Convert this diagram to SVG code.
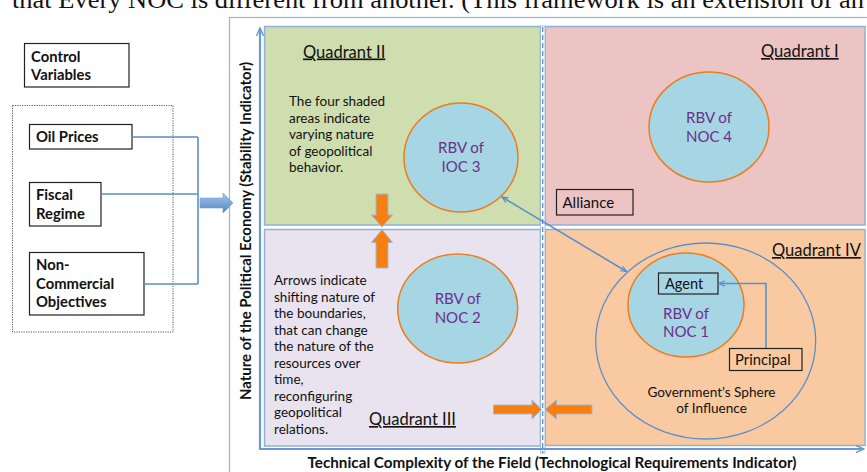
<svg xmlns="http://www.w3.org/2000/svg" width="867" height="472" viewBox="0 0 867 472">
  <style>
    .t { font-family: Lato, "Open Sans", "Liberation Sans", sans-serif; fill: #111; }
    .b { font-weight: bold; }
    .box { fill: #fff; stroke: #222; stroke-width: 1.2; }
    .lbl { fill: none; stroke: #222; stroke-width: 1.2; }
    .quad { stroke: #90b0d8; stroke-width: 1.5; }
    .rbv { fill: #a6d5e3; stroke: #ec7c1c; stroke-width: 1.5; }
    .rbvt { font-family: Lato, "Open Sans", "Liberation Sans", sans-serif; fill: #6f2e8c; font-size: 15px; text-anchor: middle; }
    .qt { font-size: 16.5px; text-decoration: underline; }
    .desc { font-size: 13.5px; }
    .cv { font-size: 14.8px; font-weight: bold; }
    .wire { fill: none; stroke: #5b8fca; stroke-width: 1.6; }
    .axis { fill: none; stroke: #6b98cf; stroke-width: 2.2; }
    .shift { fill: #f77f10; stroke: #9fb8d8; stroke-width: 1; }
  </style>
  <defs>
    <linearGradient id="flow" x1="0" y1="0" x2="0" y2="1">
      <stop offset="0" stop-color="#a9c6ea"/>
      <stop offset="1" stop-color="#4f84c4"/>
    </linearGradient>
    <marker id="tipBlue" viewBox="0 0 10 10" refX="9" refY="5" markerWidth="7" markerHeight="7" orient="auto-start-reverse" markerUnits="userSpaceOnUse">
      <path d="M0,1 L9,5 L0,9" fill="none" stroke="#5b8fca" stroke-width="1.6"/>
    </marker>
    <marker id="tipAxis" viewBox="0 0 10 10" refX="9" refY="5" markerWidth="9" markerHeight="9" orient="auto" markerUnits="userSpaceOnUse">
      <path d="M0,1 L9,5 L0,9" fill="none" stroke="#6b98cf" stroke-width="1.6"/>
    </marker>
  </defs>

  <!-- running text of the page above the figure -->
  <text x="12" y="8" font-family="'Liberation Serif', serif" font-size="26" fill="#111" textLength="852" lengthAdjust="spacingAndGlyphs">that Every NOC is different from another. (This framework is an extension of an</text>

  <!-- figure frame -->
  <rect x="229.5" y="17.5" width="700" height="500" fill="#fff" stroke="#98b4d8" stroke-width="1.2"/>

  <!-- quadrants -->
  <g id="quadrant-2">
    <rect class="quad" x="264.5" y="26.5" width="276" height="198.5" fill="#cfdeae"/>
    <text class="t qt" x="303" y="57.5">Quadrant II</text>
    <text class="t desc" x="289" y="106">The four shaded</text>
    <text class="t desc" x="289" y="122.5">areas indicate</text>
    <text class="t desc" x="289" y="139">varying nature</text>
    <text class="t desc" x="289" y="155.5">of geopolitical</text>
    <text class="t desc" x="289" y="172">behavior.</text>
  </g>
  <g id="quadrant-1">
    <rect class="quad" x="545" y="26.5" width="320" height="198.5" fill="#ebc4c3"/>
    <text class="t qt" x="761" y="57">Quadrant I</text>
  </g>
  <g id="quadrant-3">
    <rect class="quad" x="264.5" y="229.5" width="276" height="216.5" fill="#e9e3ef"/>
    <text class="t qt" x="369" y="425">Quadrant III</text>
    <text class="t desc" x="274" y="285">Arrows indicate</text>
    <text class="t desc" x="274" y="301.5">shifting nature of</text>
    <text class="t desc" x="274" y="318">the boundaries,</text>
    <text class="t desc" x="274" y="334.5">that can change</text>
    <text class="t desc" x="274" y="351">the nature of the</text>
    <text class="t desc" x="274" y="367.5">resources over</text>
    <text class="t desc" x="274" y="384">time,</text>
    <text class="t desc" x="274" y="400.5">reconfiguring</text>
    <text class="t desc" x="274" y="417">geopolitical</text>
    <text class="t desc" x="274" y="433.5">relations.</text>
  </g>
  <g id="quadrant-4">
    <rect class="quad" x="545" y="229.5" width="320" height="216" fill="#f9caa2"/>
    <text class="t qt" x="772" y="256">Quadrant IV</text>
  </g>

  <!-- dashed boundary between the columns -->
  <g id="divider">
    <rect x="540.5" y="26" width="4.5" height="427" fill="#fff" stroke="#90b0d8" stroke-width="0.8"/>
    <line x1="542.7" y1="27" x2="542.7" y2="453" stroke="#5b8fca" stroke-width="1.3" stroke-dasharray="5 3"/>
  </g>

  <!-- axes -->
  <g id="axes">
    <path class="axis" d="M260,449 V28" marker-end="url(#tipAxis)"/>
    <path class="axis" d="M259,449 H864" marker-end="url(#tipAxis)"/>
    <text class="t b" font-size="14.5" transform="translate(251,231) rotate(-90)" text-anchor="middle" textLength="338" lengthAdjust="spacingAndGlyphs">Nature of the Political Economy (Stability Indicator)</text>
    <text class="t b" font-size="14.5" x="552" y="468" text-anchor="middle" textLength="489" lengthAdjust="spacingAndGlyphs">Technical Complexity of the Field (Technological Requirements Indicator)</text>
  </g>

  <!-- control variables -->
  <g id="control-variables">
    <rect class="box" x="24.5" y="43.5" width="104.5" height="43.5"/>
    <text class="t cv" x="31" y="62">Control</text>
    <text class="t cv" x="31" y="79.5">Variables</text>
  </g>
  <g id="variable-group">
    <rect x="12.5" y="105.5" width="160.5" height="226.5" fill="none" stroke="#444" stroke-width="0.9" stroke-dasharray="1.2 1.2"/>
  </g>
  <g id="oil-prices">
    <rect class="box" x="29.5" y="124.5" width="102.5" height="24.5"/>
    <text class="t cv" x="36" y="142">Oil Prices</text>
  </g>
  <g id="fiscal-regime">
    <rect class="box" x="29.5" y="182.5" width="71.5" height="43.5"/>
    <text class="t cv" x="36" y="199.5">Fiscal</text>
    <text class="t cv" x="36" y="218.5">Regime</text>
  </g>
  <g id="non-commercial">
    <rect class="box" x="29.5" y="252.5" width="114.5" height="62.5"/>
    <text class="t cv" x="36" y="270">Non-</text>
    <text class="t cv" x="36" y="288.5">Commercial</text>
    <text class="t cv" x="36" y="307">Objectives</text>
  </g>

  <!-- resource circles -->
  <g id="rbv-ioc3">
    <ellipse class="rbv" cx="461" cy="157.5" rx="57" ry="54.5"/>
    <text class="rbvt" x="461" y="153">RBV of</text>
    <text class="rbvt" x="461" y="171.5">IOC 3</text>
  </g>
  <g id="rbv-noc4">
    <ellipse class="rbv" cx="709" cy="127" rx="60" ry="55"/>
    <text class="rbvt" x="709" y="123">RBV of</text>
    <text class="rbvt" x="709" y="141.5">NOC 4</text>
  </g>
  <g id="rbv-noc2">
    <ellipse class="rbv" cx="457.7" cy="308.5" rx="60" ry="54.5"/>
    <text class="rbvt" x="457.7" y="304">RBV of</text>
    <text class="rbvt" x="457.7" y="322.5">NOC 2</text>
  </g>
  <g id="sphere">
    <ellipse cx="705.7" cy="341" rx="110" ry="98" fill="none" stroke="#5b8fca" stroke-width="1.3"/>
    <text class="t" font-size="13.6" x="711.5" y="396.5" text-anchor="middle">Government’s Sphere</text>
    <text class="t" font-size="13.6" x="711.5" y="412.5" text-anchor="middle">of Influence</text>
  </g>
  <g id="rbv-noc1">
    <ellipse class="rbv" cx="686" cy="305" rx="58" ry="52"/>
    <text class="rbvt" x="686" y="319">RBV of</text>
    <text class="rbvt" x="686" y="337">NOC 1</text>
  </g>
  <g id="agent">
    <rect class="lbl" x="658.5" y="273" width="59.5" height="21"/>
    <text class="t" font-size="14.5" x="665" y="288.5">Agent</text>
  </g>
  <g id="principal">
    <rect class="lbl" x="729.5" y="348.5" width="72.5" height="22"/>
    <text class="t" font-size="14.8" x="735" y="364.5">Principal</text>
  </g>
  <g id="alliance">
    <rect class="lbl" x="556.5" y="189.5" width="76.5" height="25.5"/>
    <text class="t" font-size="15" x="562.5" y="208">Alliance</text>
  </g>

  <!-- connectors -->
  <g id="connectors">
    <path class="wire" d="M132,137 H198 M101,194 H198 M144,284 H198 M198,137 V284"/>
    <path d="M200,198 H223 V193 L233,203 L223,213 V208 H200 Z" fill="url(#flow)" stroke="#6f9bd0" stroke-width="0.6"/>
    <path class="wire" d="M766,348 V283.5 H719" marker-end="url(#tipBlue)"/>
    <path class="wire" d="M502,197 L626.5,271.5" marker-start="url(#tipBlue)" marker-end="url(#tipBlue)"/>
    <path class="shift" d="M376,194 H388 V215 H392.5 L382,227 L371.5,215 H376 Z"/>
    <path class="shift" d="M382,229.5 L392.5,242.5 H388 V268 H376 V242.5 H371.5 Z"/>
    <path class="shift" d="M493.5,405 H532 V400 L541.7,409.5 L532,419 V414 H493.5 Z"/>
    <path class="shift" d="M545,409.5 L556.5,400 V405 H592 V414 H556.5 V419 Z"/>
  </g>
</svg>
